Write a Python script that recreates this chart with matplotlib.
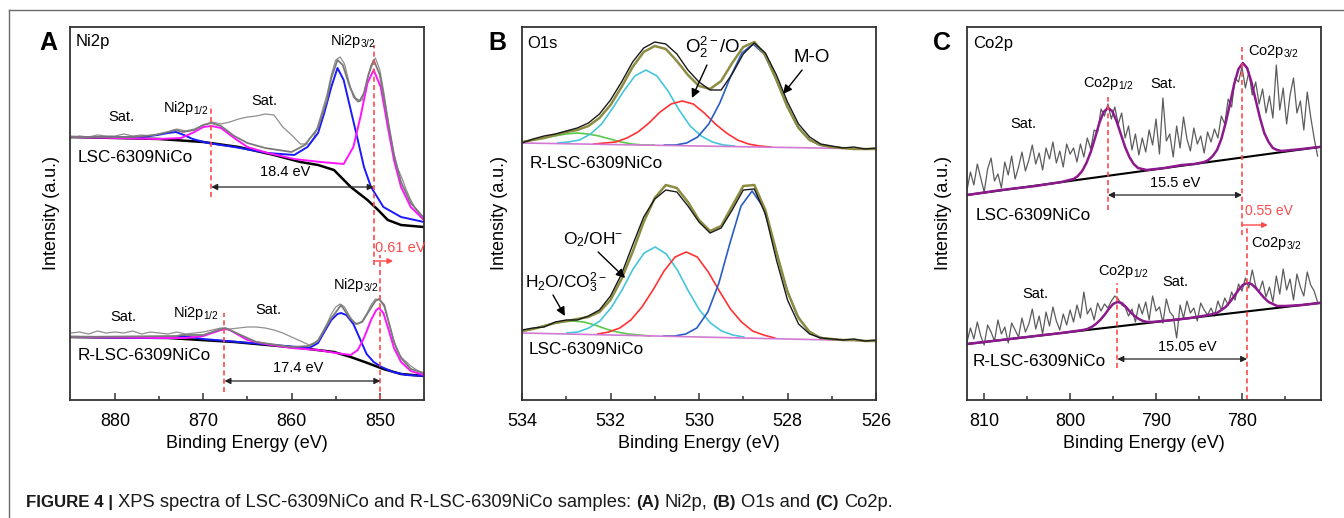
import numpy as np
import matplotlib.pyplot as plt
from matplotlib.lines import Line2D

plt.rcParams['font.family'] = ['Liberation Sans', 'DejaVu Sans']
plt.rcParams['mathtext.fontset'] = 'custom'
plt.rcParams['mathtext.rm'] = 'Liberation Sans'
plt.rcParams['mathtext.it'] = 'Liberation Sans:italic'
plt.rcParams['mathtext.bf'] = 'Liberation Sans:bold'
plt.rcParams['mathtext.default'] = 'regular'

# ---------------- Ni2p (panel A), intensity in a.u. ----------------
ni_e_raw = [885, 884, 883, 882, 881, 880, 879, 878, 877, 876, 875, 874, 873, 872,
            871, 870, 869, 868, 867, 866, 865, 864, 863, 862, 861, 860, 859, 858,
            857.5, 857, 856.5, 856, 855.5, 855, 854.5, 854, 853.5, 853, 852.5, 852,
            851.5, 851, 850.5, 850, 849.5, 849, 848.5, 848, 847.5, 847, 846.5, 846,
            845.5, 845]
ni_raw_top = [262, 264, 263, 265, 264, 264, 266, 264, 265, 264, 266, 268, 271, 269,
              271, 275, 278, 276, 278, 281, 283, 284, 286, 285, 273, 265, 256, 256,
              262, 275, 290, 305, 325, 340, 343, 336, 318, 303, 298, 300,
              318, 335, 342, 330, 305, 275, 250, 232, 222, 210, 200, 192, 185, 180]
ni_raw_bot = [67, 68, 66, 69, 67, 68, 67, 69, 66, 68, 67, 66, 68, 66,
              67, 68, 70, 72, 71, 72, 73, 73, 72, 70, 67, 63, 59, 55,
              57, 60, 68, 76, 86, 93, 96, 93, 85, 78, 76, 79,
              86, 95, 101, 100, 93, 78, 62, 48, 42, 38, 34, 31, 28, 26]

ni_e_env_top = [885, 878, 875.5, 874, 873.2, 872.3, 871, 870, 869.1, 868, 866.5, 865,
                863, 860, 858.5, 857, 856, 855.5, 854.8, 854.2, 853.4, 852.8, 852.3,
                851.8, 851.3, 850.7, 850, 849.2, 848.4, 847.6, 846.5, 845]
ni_env_top = [263, 263, 265, 268, 270, 268, 270, 275, 277, 274, 264, 257,
              252, 248, 255, 272, 300, 322, 340, 335, 313, 302, 299,
              307, 325, 340, 325, 285, 245, 218, 197, 182]
ni_e_bg_top = [885, 880, 875, 870, 866, 862, 859, 857, 855.2, 853.3, 851.4, 850.2,
               849.1, 847.6, 845]
ni_bg_top = [263, 262, 261, 258, 253, 245, 238, 235, 230, 213, 200, 190, 180, 175, 173]
ni_e_blue_top = [885, 877, 875.2, 874, 873.1, 872.2, 871.2, 869.5, 866.5, 862.7, 859.7,
                 858.2, 857, 856.3, 855.5, 854.8, 854.1, 853.3, 852.5, 851.8, 851,
                 849.6, 847.6, 845]
ni_blue_top = [263, 263, 265, 267, 268, 265, 261, 257, 253, 247, 245,
               253, 267, 287, 313, 332, 320, 290, 260, 233, 213, 193, 183, 178]
ni_e_mag_top = [885, 875, 872.5, 871, 870, 869.1, 868, 866.5, 865, 862.7, 859.7, 856.7,
                854.1, 853, 852.2, 851.4, 850.7, 849.9, 849.1, 848.4, 847.6, 846.5, 845]
ni_mag_top = [263, 261, 262, 268, 273, 274, 272, 262, 253, 247, 241, 238,
              236, 253, 283, 317, 330, 313, 273, 240, 213, 193, 180]

ni_e_env_bot = [885, 873, 872.5, 870, 868, 867.5, 866, 864, 860, 858, 857, 856.3, 855.5,
                854.8, 854.4, 853.4, 852.7, 852, 851.3, 850.5, 850.1, 849.5, 849,
                848.4, 847.6, 846.5, 845]
ni_env_bot = [63, 64, 65, 65, 71, 72, 66, 58, 53, 54, 59, 70, 82,
              90, 95, 82, 76, 78, 88, 99, 101, 95, 78, 58, 42, 31, 27]
ni_e_bg_bot = [885, 874, 866.5, 859, 855.2, 853.3, 851.4, 849.6, 847.6, 845]
ni_bg_bot = [63, 62, 58, 52, 48, 43, 37, 31, 26, 24]
ni_e_blue_bot = [885, 874, 873, 872.3, 871.5, 870, 866, 862, 858, 857, 856.3, 855.5,
                 854.8, 854.4, 853.8, 853, 852.3, 851.5, 850.7, 849.8, 848.5, 847, 845]
ni_blue_bot = [63, 62, 63, 64, 63, 61, 58, 55, 52, 57, 68, 80,
               86, 87, 85, 76, 62, 46, 38, 33, 28, 25, 24]
ni_e_mag_bot = [885, 874, 872, 870, 869, 868, 867.5, 867, 866, 865, 863, 860, 857, 855,
                853.3, 852.5, 851.8, 851, 850.4, 850.1, 849.6, 849, 848.4, 847.6,
                846.5, 845]
ni_mag_bot = [63, 62, 62, 64, 67, 70, 71, 70, 65, 60, 56, 52, 50, 47,
              45, 50, 62, 80, 90, 92, 87, 70, 52, 38, 29, 25]

# ---------------- O1s (panel B) ----------------
o_e = np.arange(534.0, 525.99, -0.25)
o_top_raw = [257, 261, 264, 266, 269, 272, 277, 286, 300, 318, 338, 352, 358, 356, 346,
             330, 318, 310, 310, 326, 346, 357, 347, 325, 298, 276, 263, 256, 254, 252,
             253, 251, 252]
o_top_env = [258, 260, 262, 265, 268, 270, 274, 282, 295, 313, 333, 348, 354, 351, 339,
             325, 314, 311, 319, 337, 353, 358, 345, 320, 293, 272, 260, 255, 253, 252,
             251, 251, 251]
o_bot_raw = [70, 72, 73, 78, 80, 80, 84, 90, 104, 126, 155, 183, 201, 210, 208, 194,
             178, 167, 172, 190, 210, 211, 186, 140, 100, 76, 66, 62, 61, 60, 61, 59, 60]
o_bot_env = [69, 71, 74, 77, 79, 81, 83, 88, 100, 121, 148, 178, 202, 215, 212, 198,
             180, 169, 174, 194, 214, 215, 190, 148, 108, 82, 68, 62, 61, 60, 60, 59, 59]

o_base_e = [534, 526]
o_top_base = [257, 251]
o_bot_base = [67, 59]

o_top_cyan_e = [533.2, 532.95, 532.7, 532.45, 532.2, 531.95, 531.7, 531.45, 531.2,
                530.95, 530.7, 530.45, 530.2, 529.95, 529.7, 529.45, 529.2]
o_top_cyan = [257, 258, 260, 266, 276, 292, 309, 324, 330, 324, 309, 290, 274, 264, 258, 255, 254]
o_top_red_e = [532.38, 532.13, 531.88, 531.63, 531.38, 531.13, 530.88, 530.63, 530.38,
               530.13, 529.88, 529.63, 529.38, 529.13, 528.88, 528.63, 528.38]
o_top_red = [256, 257, 258, 262, 268, 277, 288, 296, 299, 296, 287, 276, 267, 260, 256, 254, 253]
o_top_blue_e = [530.78, 530.53, 530.28, 530.03, 529.78, 529.53, 529.28, 529.03, 528.78,
                528.53, 528.28, 528.03, 527.78, 527.53, 527.28, 527.03, 526.78]
o_top_blue = [255, 255, 257, 263, 276, 297, 324, 347, 356, 346, 323, 296, 274, 261, 255, 253, 252]
o_top_green_e = [534.0, 533.76, 533.51, 533.26, 533.01, 532.76, 532.51, 532.26, 532.01,
                 531.76, 531.51, 531.26, 531.01]
o_top_green = [258, 260, 262, 264, 266, 267, 266, 264, 261, 258, 256, 255, 255]

o_bot_cyan_e = [532.99, 532.74, 532.49, 532.24, 531.99, 531.74, 531.49, 531.24, 530.99,
                530.74, 530.49, 530.24, 529.99, 529.74, 529.49, 529.24, 528.99]
o_bot_cyan = [67, 68, 72, 79, 92, 110, 131, 147, 153, 146, 130, 109, 90, 77, 69, 65, 63]
o_bot_red_e = [532.29, 532.04, 531.79, 531.54, 531.29, 531.04, 530.79, 530.54, 530.29,
               530.04, 529.79, 529.54, 529.29, 529.04, 528.79, 528.54, 528.29]
o_bot_red = [66, 68, 72, 80, 93, 110, 129, 143, 148, 143, 128, 109, 91, 78, 69, 65, 62]
o_bot_blue_e = [530.8, 530.55, 530.3, 530.05, 529.8, 529.55, 529.3, 529.05, 528.8,
                528.55, 528.3, 528.05, 527.8, 527.55, 527.3, 527.05, 526.8]
o_bot_blue = [64, 64, 66, 72, 88, 117, 157, 194, 209, 193, 156, 115, 86, 70, 63, 61, 60]
o_bot_green_e = [534.0, 533.85, 533.6, 533.35, 533.1, 532.85, 532.6, 532.35, 532.1,
                 531.85, 531.6, 531.35, 531.1]
o_bot_green = [69, 70, 73, 76, 78, 79, 78, 75, 71, 68, 66, 65, 64]

# ---------------- Co2p (panel C) ----------------
co_e = np.arange(812.0, 771.0, -0.4)
co_top_raw = [210, 228, 215, 236, 222, 208, 231, 242, 219, 226, 212, 238, 225, 244, 221, 233,
              248, 229, 240, 255, 236, 247, 230, 252, 241, 258, 237, 249, 233, 256, 246,
              252, 238, 256, 243, 262, 251, 270, 268, 291, 284, 296, 281, 293, 276, 287,
              262, 274, 250, 266, 245,
              262, 248, 270, 255, 281, 246, 302, 259, 266, 243, 274, 252, 283, 261, 249,
              272, 256, 264, 247, 268,
              258, 271, 262, 284, 276, 301, 293, 322, 318, 333, 312, 328, 305, 318, 296,
              311, 287, 304, 282, 335,
              290, 312, 276, 305, 322, 287, 299, 270, 308, 283, 262, 244]
co_bot_raw = [58, 72, 61, 78, 64, 55, 75, 68, 59, 80, 66, 73, 57, 77, 70, 63,
              82, 68, 76, 91, 71, 84, 66, 88, 74, 93, 79, 70, 86, 75, 90,
              78, 95, 82, 108, 86, 92, 80, 97, 89, 96, 92, 99, 104, 101, 95, 93, 84, 91, 78, 96,
              86, 98, 80, 104, 89, 93, 77, 101, 88, 84, 62, 95, 82, 99, 87, 92, 79, 97, 90, 85,
              92, 84, 99, 90, 102, 95, 108, 100, 116, 109, 122, 112, 130, 114, 108, 119, 103,
              113, 98, 124,
              106, 131, 110, 121, 100, 126, 113, 104, 128, 115, 109, 98]

co_top_fit_e = [812, 808, 804, 801, 800.1, 799.6, 799.1, 798.6, 798.1, 797.6, 797.1, 796.6,
                796.1, 795.6, 795.1, 794.6, 794.1, 793.6, 793.1, 792.6, 792.1, 791.6, 791.1,
                789, 787, 785.5, 784.4, 783.9, 783.4, 782.9, 782.4, 781.9, 781.4, 780.9,
                780.4, 779.9, 779.4, 778.9, 778.4, 777.9, 777.4, 776.9, 776.4, 775.9, 775.4,
                773, 771]
co_top_fit = [205, 210, 214, 218, 220, 221, 224, 229, 237, 248, 262, 277,
              288, 292, 289, 279, 266, 253, 243, 236, 232, 231, 230,
              232, 235, 236, 238, 240, 244, 250, 261, 277, 296, 316,
              331, 337, 332, 318, 300, 282, 267, 258, 252, 250, 249,
              251, 253]
co_bot_fit_e = [812, 806, 801, 798.5, 798.0, 797.5, 797.0, 796.5, 796.0, 795.5, 795.0,
                794.5, 794.0, 793.5, 793.0, 792.5, 792.0, 791.5, 791.0, 790.5, 788, 786,
                783.9, 783.4, 782.9, 782.4, 781.9, 781.4, 780.9, 780.4, 779.9, 779.4,
                778.9, 778.4, 777.9, 777.4, 776.9, 776.4, 775.9, 775.4, 774.9, 773, 771]
co_bot_fit = [56, 62, 67, 70, 71, 73, 76, 80, 85, 91, 96,
              98, 97, 93, 88, 84, 81, 79, 78, 78, 80, 82,
              85, 86, 87, 90, 93, 98, 104, 110, 115, 117,
              116, 112, 107, 102, 98, 96, 94, 94, 94, 95, 97]
co_base_e = [812, 771]
co_top_base = [205, 253]
co_bot_base = [56, 97]

# ---------------- figure ----------------
W, H = 1344, 518
fig = plt.figure(figsize=(W / 100, H / 100), dpi=100)

RED = '#ff4a4a'
DASH = (0, (3, 2))


def add_axes_px(left, top, right, bottom):
    return fig.add_axes([left / W, 1 - bottom / H, (right - left) / W, (bottom - top) / H])


def style(ax, xlim, major, minor, ylab_x):
    ax.set_xlim(*xlim)
    ax.set_ylim(0, 373)
    ax.set_xticks(major)
    ax.set_xticks(minor, minor=True)
    ax.set_yticks([])
    ax.tick_params(axis='x', which='both', direction='in', labelsize=13, pad=9,
                   width=1.1, color='#333333')
    ax.tick_params(axis='x', which='major', length=5)
    ax.tick_params(axis='x', which='minor', length=3)
    for s in ax.spines.values():
        s.set_linewidth(1.3)
        s.set_color('#333333')
    ax.set_xlabel('Binding Energy (eV)', fontsize=13, labelpad=4)
    ax.set_ylabel('Intensity (a.u.)', fontsize=13)
    ax.yaxis.set_label_coords(ylab_x, 0.5)


def eV_arrow(ax, x0, x1, y, color='#222222'):
    ax.annotate('', xy=(x1, y), xytext=(x0, y),
                arrowprops=dict(arrowstyle='<|-|>', color=color, lw=0.9,
                                mutation_scale=9, shrinkA=0, shrinkB=0))


def pointer(ax, xy, xytext):
    ax.annotate('', xy=xy, xytext=xytext,
                arrowprops=dict(arrowstyle='-|>', color='black', lw=1.0,
                                mutation_scale=13, shrinkA=0, shrinkB=0))


def vdash(ax, x, y0, y1):
    ax.plot([x, x], [y0, y1], color=RED, lw=1.2, ls=DASH)


# ----- panel A -----
axA = add_axes_px(70, 27, 424, 400)
style(axA, (885.1, 845.0), [880, 870, 860, 850], [875, 865, 855], -0.027)

axA.plot(ni_e_raw, ni_raw_top, color='#8f8f8f', lw=0.9)
axA.plot(ni_e_bg_top, ni_bg_top, color='black', lw=1.8)
axA.plot(ni_e_blue_top, ni_blue_top, color='#1a1aff', lw=1.4)
axA.plot(ni_e_mag_top, ni_mag_top, color='#ff14ff', lw=1.4)
axA.plot(ni_e_env_top, ni_env_top, color='#7a7a7a', lw=1.3)

axA.plot(ni_e_raw, ni_raw_bot, color='#8f8f8f', lw=0.9)
axA.plot(ni_e_bg_bot, ni_bg_bot, color='black', lw=1.8)
axA.plot(ni_e_blue_bot, ni_blue_bot, color='#1a1aff', lw=1.4)
axA.plot(ni_e_mag_bot, ni_mag_bot, color='#ff14ff', lw=1.4)
axA.plot(ni_e_env_bot, ni_env_bot, color='#7a7a7a', lw=1.3)

axA.text(0.015, 0.962, 'Ni2p', transform=axA.transAxes, fontsize=12, va='center')
axA.text(879.3, 283, 'Sat.', fontsize=10.5, ha='center', va='center')
axA.text(872.0, 292, 'Ni2p$_{1/2}$', fontsize=10.5, ha='center', va='center')
axA.text(863.1, 299, 'Sat.', fontsize=10.5, ha='center', va='center')
axA.text(853.1, 359, 'Ni2p$_{3/2}$', fontsize=10.5, ha='center', va='center')
axA.text(884.2, 243, 'LSC-6309NiCo', fontsize=12.3, ha='left', va='center')
vdash(axA, 869.1, 203, 295)
vdash(axA, 850.7, 135, 355)
eV_arrow(axA, 869.1, 850.7, 213)
axA.text(860.7, 221, '18.4 eV', fontsize=10.5, ha='center', va='bottom')
axA.text(850.55, 152, '0.61 eV', fontsize=10.5, color=RED, ha='left', va='center')
axA.annotate('', xy=(848.5, 139), xytext=(850.7, 139),
             arrowprops=dict(arrowstyle='-|>', color=RED, lw=1.0, mutation_scale=8,
                             shrinkA=0, shrinkB=0))
vdash(axA, 849.95, 0, 145)

axA.text(879.1, 83, 'Sat.', fontsize=10.5, ha='center', va='center')
axA.text(870.8, 87, 'Ni2p$_{1/2}$', fontsize=10.5, ha='center', va='center')
axA.text(862.6, 90, 'Sat.', fontsize=10.5, ha='center', va='center')
axA.text(852.7, 115, 'Ni2p$_{3/2}$', fontsize=10.5, ha='center', va='center')
axA.text(884.2, 44, 'R-LSC-6309NiCo', fontsize=12.3, ha='left', va='center')
vdash(axA, 867.6, 8, 87)
eV_arrow(axA, 867.6, 849.95, 19)
axA.text(859.3, 25, '17.4 eV', fontsize=10.5, ha='center', va='bottom')

# ----- panel B -----
axB = add_axes_px(522, 27, 876, 400)
style(axB, (534, 526), [534, 532, 530, 528, 526], [533, 531, 529, 527], -0.04)

for base, cy_e, cy, r_e, r, b_e, b, g_e, g, env, raw in [
        (o_top_base, o_top_cyan_e, o_top_cyan, o_top_red_e, o_top_red, o_top_blue_e,
         o_top_blue, o_top_green_e, o_top_green, o_top_env, o_top_raw),
        (o_bot_base, o_bot_cyan_e, o_bot_cyan, o_bot_red_e, o_bot_red, o_bot_blue_e,
         o_bot_blue, o_bot_green_e, o_bot_green, o_bot_env, o_bot_raw)]:
    axB.plot(g_e, g, color='#5cc74a', lw=1.2)
    axB.plot(cy_e, cy, color='#45c6dc', lw=1.2)
    axB.plot(r_e, r, color='#ff3333', lw=1.2)
    axB.plot(b_e, b, color='#2a5cc6', lw=1.2)
    axB.plot(o_base_e, base, color='#d27ad2', lw=1.2)
    axB.plot(o_e, env, color='#8d8d42', lw=1.8)
    axB.plot(o_e, raw, color='#1a1a1a', lw=1.0)

axB.text(0.015, 0.957, 'O1s', transform=axB.transAxes, fontsize=12, va='center')
axB.text(529.6, 353, 'O$_2^{2-}$/O$^{-}$', fontsize=13.5, ha='center', va='center')
pointer(axB, (530.16, 302), (529.82, 335))
axB.text(527.45, 342, 'M-O', fontsize=13.5, ha='center', va='center')
pointer(axB, (528.1, 306), (527.67, 330))
axB.text(533.82, 237, 'R-LSC-6309NiCo', fontsize=12.3, ha='left', va='center')
axB.text(532.4, 160, 'O$_2$/OH$^{-}$', fontsize=12.5, ha='center', va='center')
pointer(axB, (531.67, 122), (532.28, 148))
axB.text(533.0, 117, 'H$_2$O/CO$_3^{2-}$', fontsize=12.5, ha='center', va='center')
pointer(axB, (533.03, 84), (533.3, 105))
axB.text(533.84, 50, 'LSC-6309NiCo', fontsize=12.3, ha='left', va='center')

# ----- panel C -----
axC = add_axes_px(967, 27, 1321, 400)
style(axC, (812.0, 770.8), [810, 800, 790, 780], [805, 795, 785, 775], -0.042)

axC.plot(co_e, co_top_raw, color='#5c5c5c', lw=0.9)
axC.plot(co_base_e, co_top_base, color='black', lw=1.5)
axC.plot(co_top_fit_e, co_top_fit, color='#8c1a8c', lw=1.8)
axC.plot(co_e, co_bot_raw, color='#5c5c5c', lw=0.9)
axC.plot(co_base_e, co_bot_base, color='black', lw=1.5)
axC.plot(co_bot_fit_e, co_bot_fit, color='#8c1a8c', lw=1.8)

axC.text(0.017, 0.957, 'Co2p', transform=axC.transAxes, fontsize=12, va='center')
axC.text(805.5, 276, 'Sat.', fontsize=10.5, ha='center', va='center')
axC.text(795.5, 316, 'Co2p$_{1/2}$', fontsize=10.5, ha='center', va='center')
axC.text(789.2, 316, 'Sat.', fontsize=10.5, ha='center', va='center')
axC.text(776.3, 348, 'Co2p$_{3/2}$', fontsize=10.5, ha='center', va='center')
axC.text(811.0, 184, 'LSC-6309NiCo', fontsize=12.3, ha='left', va='center')
vdash(axC, 795.6, 190, 303)
vdash(axC, 780.0, 165, 353)
eV_arrow(axC, 795.6, 780.0, 205)
axC.text(787.8, 210, '15.5 eV', fontsize=10.5, ha='center', va='bottom')
axC.text(779.65, 189, '0.55 eV', fontsize=10, color=RED, ha='left', va='center')
axC.annotate('', xy=(777.0, 175), xytext=(780.0, 175),
             arrowprops=dict(arrowstyle='-|>', color=RED, lw=1.0, mutation_scale=8,
                             shrinkA=0, shrinkB=0))
vdash(axC, 779.4, 0, 172)
axC.text(776.0, 157, 'Co2p$_{3/2}$', fontsize=10.5, ha='center', va='center')
axC.text(804.1, 106, 'Sat.', fontsize=10.5, ha='center', va='center')
axC.text(793.8, 128, 'Co2p$_{1/2}$', fontsize=10.5, ha='center', va='center')
axC.text(787.8, 118, 'Sat.', fontsize=10.5, ha='center', va='center')
axC.text(811.3, 39, 'R-LSC-6309NiCo', fontsize=12.3, ha='left', va='center')
vdash(axC, 794.5, 32, 117)
eV_arrow(axC, 794.5, 779.4, 41)
axC.text(786.4, 46, '15.05 eV', fontsize=10.5, ha='center', va='bottom')

# panel letters
for x, s in [(48, 'A'), (497, 'B'), (942, 'C')]:
    fig.text(x / W, 1 - 43 / H, s, fontsize=18, fontweight='bold', ha='center', va='center')

# frame lines around the figure
fig.add_artist(Line2D([9 / W, 1], [1 - 10 / H, 1 - 10 / H], color='#6a6a6a', lw=1.0))
fig.add_artist(Line2D([9 / W, 9 / W], [0, 1 - 10 / H], color='#6a6a6a', lw=1.0))

# caption with mixed weights
pieces = [('FIGURE 4 |', True),
          ('XPS spectra of LSC-6309NiCo and R-LSC-6309NiCo samples:', False),
          ('(A)', True), ('Ni2p,', False), ('(B)', True), ('O1s and', False),
          ('(C)', True), ('Co2p.', False)]
renderer = fig.canvas.get_renderer()
t1 = fig.text(0, 0, 'x x', fontsize=13)
t2 = fig.text(0, 0, 'xx', fontsize=13)
space_w = (t1.get_window_extent(renderer).width - t2.get_window_extent(renderer).width) / W
t1.remove()
t2.remove()
xpos = 26 / W
for txt, bold in pieces:
    t = fig.text(xpos, 1 - 507 / H, txt, fontsize=12.2 if bold else 13.2,
                 fontweight='bold' if bold else 'normal', va='baseline', color='#1a1a1a')
    xpos += t.get_window_extent(renderer).width / W + space_w

fig.savefig('out.png', dpi=100)
